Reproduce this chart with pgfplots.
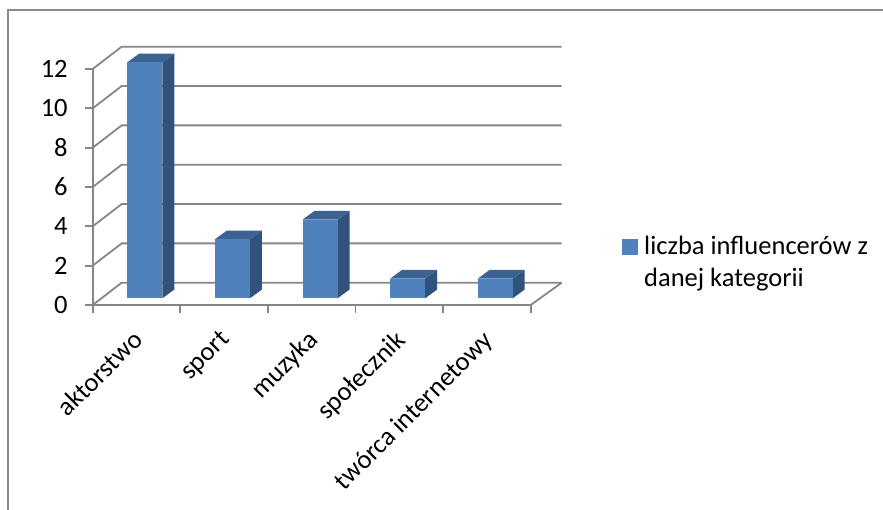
\documentclass[border=0pt]{standalone}
\usepackage{pgfplots}
\usepackage{fontspec}
\setmainfont{Carlito}
\pgfplotsset{compat=1.18}
\definecolor{frontblue}{HTML}{4F81BD}
\definecolor{sideblue}{HTML}{31527C}
\definecolor{topblue}{HTML}{3A6392}
\definecolor{rulegray}{HTML}{868686}
\definecolor{framegray}{HTML}{8C8C8C}
\newcommand{\labelfont}{\fontsize{26.5}{32}\selectfont}

% One back-wall gridline: diagonal from the front axis, then along the wall
\newcommand{\wallline}[1]{%
  \pgfmathsetmacro\ya{#1+1.134}%
  \edef\temp{\noexpand\addplot[rulegray, line width=1.8pt, forget plot]
    coordinates {(0,#1) (0.331,\ya) (5.354,\ya)};}\temp}

% One block of the column chart: side, top and front faces
\newcommand{\block}[2]{%
  \pgfmathsetmacro\xa{#1+0.395}%
  \pgfmathsetmacro\xb{#1+0.795}%
  \pgfmathsetmacro\xc{\xb+0.137}%
  \pgfmathsetmacro\xd{\xa+0.137}%
  \pgfmathsetmacro\yt{#2+0.34}%
  \pgfmathsetmacro\ybk{\yt+0.447}%
  \edef\temp{%
    \noexpand\addplot[fill=sideblue, draw=none, forget plot]
      coordinates {(\xb,0.34) (\xc,0.787) (\xc,\ybk) (\xb,\yt)} --cycle;
    \noexpand\addplot[fill=topblue, draw=none, forget plot]
      coordinates {(\xa,\yt) (\xb,\yt) (\xc,\ybk) (\xd,\ybk)} --cycle;
    \noexpand\addplot[fill=frontblue, draw=none, forget plot]
      coordinates {(\xa,0.34) (\xb,0.34) (\xb,\yt) (\xa,\yt)} --cycle;
  }\temp}

\begin{document}
\begin{tikzpicture}
\path[use as bounding box] (-92.7pt,-205pt) rectangle (790.3pt,305pt);
% Chart area border: only the top and left edges fall inside the page
\draw[framegray, line width=1.8pt] (-84.7pt,-205pt) -- (-84.7pt,295pt) -- (790.3pt,295pt);
\begin{axis}[
  at={(0pt,0pt)}, anchor=south west,
  scale only axis, width=438pt, height=236pt,
  xmin=0, xmax=5, ymin=0, ymax=12,
  clip=false,
  axis lines*=left,
  axis line style={draw=rulegray, line width=1.8pt, -},
  tick align=outside,
  ytick={0,2,...,12},
  xtick={0.56,1.56,2.56,3.56,4.56},
  xticklabels={aktorstwo,sport,muzyka,społecznik,twórca internetowy},
  minor xtick={0,1,2,3,4,5},
  major tick length=7.5pt,
  minor tick length=8pt,
  tick style={draw=rulegray, line width=1.8pt},
  xtick style={draw=none},
  minor x tick style={draw=rulegray, line width=1.8pt},
  /pgf/number format/assume math mode=true,
  yticklabel style={font=\labelfont, text=black, xshift=-14pt},
  xticklabel style={font=\labelfont, text=black, rotate=45, anchor=north east, inner sep=0pt, yshift=-3.6pt, xshift=-19pt},
  legend style={
    at={(1.208,0.25)}, anchor=west, draw=none, fill=none,
    font=\labelfont, inner sep=0pt, outer sep=0pt,
    /tikz/every even column/.append style={column sep=0pt},
  },
  legend cell align=left,
]
\addlegendimage{legend image code/.code={
  \fill[frontblue] (0pt,-8.5pt) rectangle (15pt,6.5pt);}}
\addlegendentry{\parbox[t]{235pt}{\raggedright\hspace*{5pt}liczba influencerów z\\\hspace*{5pt}danej kategorii}}
\wallline{0}
\wallline{2}
\wallline{4}
\wallline{6}
\wallline{8}
\wallline{10}
\wallline{12}
\addplot[rulegray, line width=1.8pt, forget plot] coordinates {(5,0) (5.354,1.134)};
\block{0}{12}
\block{1}{3}
\block{2}{4}
\block{3}{1}
\block{4}{1}
\end{axis}
\end{tikzpicture}
\end{document}
